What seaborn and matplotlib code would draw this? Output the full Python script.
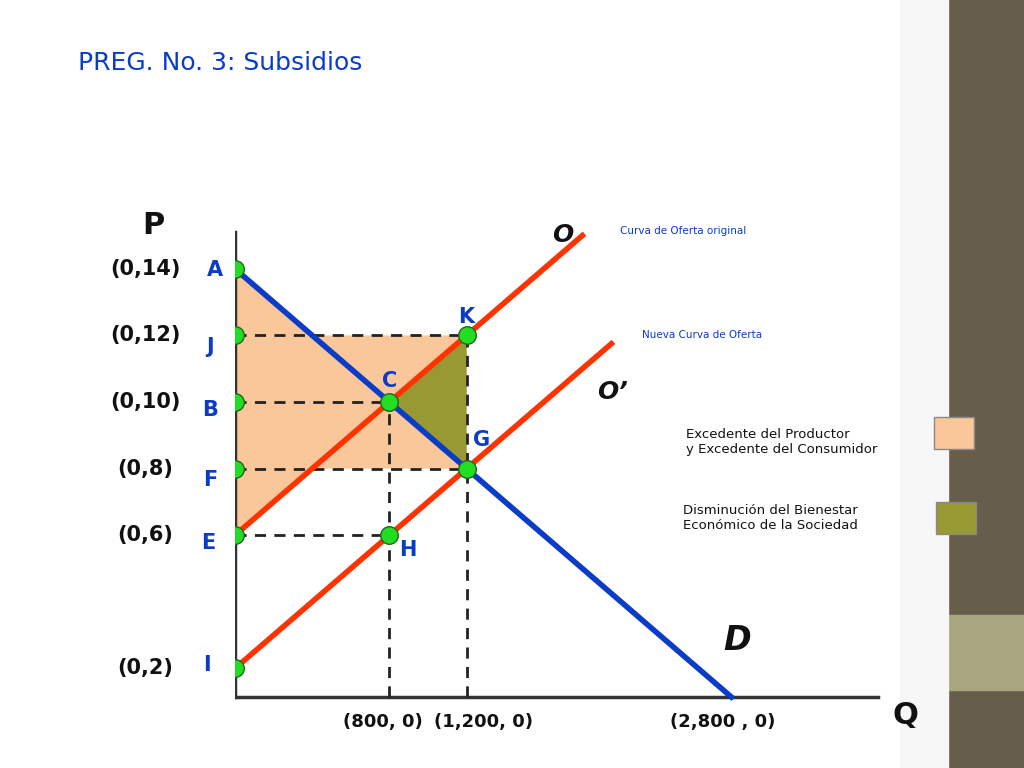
import matplotlib
matplotlib.use("Agg")
import matplotlib.pyplot as plt
import seaborn as sns
import pandas as pd
from matplotlib.patches import Rectangle, Polygon

# data
demand_q = [0, 2572]
demand_p = [14, 14 - 2572 / 200]
supply_q = [0, 1800]
supply_p = [6, 6 + 1800 / 200]
new_supply_q = [0, 1950]
new_supply_p = [2, 2 + 1950 / 200]
pt_names = ["A", "J", "B", "F", "E", "I", "K", "C", "G", "H"]
pt_q = [0, 0, 0, 0, 0, 0, 1200, 800, 1200, 800]
pt_p = [14, 12, 10, 8, 6, 2, 12, 10, 8, 6]
price_labels = ["(0,14)", "(0,12)", "(0,10)", "(0,8)", "(0,6)", "(0,2)"]
price_vals = [14, 12, 10, 8, 6, 2]
qty_labels = ["(800, 0)", "(1,200, 0)", "(2,800 , 0)"]
qty_px = [383, 484, 723]

BLUE = "#0a3cc8"
RED = "#ff3300"
PEACH = "#fac79a"
OLIVE = "#999933"
AXIS_P = 1.14
XS = 0.193  # px per Q unit
YS = 33.3   # px per P unit

W, H = 1024, 768
fig = plt.figure(figsize=(W / 100, H / 100), dpi=100)
fig.patch.set_facecolor("white")

def px(x, y):
    return x / W, 1 - y / H

# right decoration
fig.patches.append(Rectangle(px(948, 768), 76 / W, 1, transform=fig.transFigure, color="#665e4a", zorder=0))
fig.patches.append(Rectangle(px(948, 690), 76 / W, 75 / H, transform=fig.transFigure, color="#a9a67f", zorder=0))
fig.patches.append(Rectangle(px(900, 768), 48 / W, 1, transform=fig.transFigure, color="#f7f7f7", zorder=0))

ax = fig.add_axes([235 / W, 33 / H, 3600 * XS / W, 21 * YS / H])
ax.set_xlim(0, 3600)
ax.set_ylim(0, 21)
ax.axis("off")
ax.patch.set_alpha(0)

# surplus areas
ax.add_patch(Polygon([(0, 14), (0, 6), (400, 8), (1200, 8), (1200, 12), (400, 12)],
                     closed=True, color=PEACH, lw=0, zorder=1))
ax.add_patch(Polygon([(800, 10), (1200, 12), (1200, 8)], closed=True, color=OLIVE, lw=0, zorder=2))

# axes lines
ax.plot([0, 0], [AXIS_P, 15.1], color="#333333", lw=2.5, zorder=3)
ax.plot([0, 3330], [AXIS_P, AXIS_P], color="#333333", lw=2.5, zorder=3)

# dashed guides
dash = dict(color="#222222", lw=2, ls=(0, (4, 3)), zorder=3)
ax.plot([0, 1200], [12, 12], **dash)
ax.plot([0, 800], [10, 10], **dash)
ax.plot([0, 1200], [8, 8], **dash)
ax.plot([0, 800], [6, 6], **dash)
ax.plot([800, 800], [AXIS_P, 10], **dash)
ax.plot([1200, 1200], [AXIS_P, 12], **dash)

# curves
curves = pd.DataFrame({
    "Q": demand_q + supply_q + new_supply_q,
    "P": demand_p + supply_p + new_supply_p,
    "curve": ["D"] * 2 + ["O"] * 2 + ["O'"] * 2,
})
sns.lineplot(data=curves, x="Q", y="P", hue="curve", palette={"D": BLUE, "O": RED, "O'": RED},
             lw=4, legend=False, ax=ax, zorder=4)

pts = pd.DataFrame({"Q": pt_q, "P": pt_p})
sns.scatterplot(data=pts, x="Q", y="P", color="#22dd22", edgecolor="#226622", linewidth=1,
                s=160, ax=ax, zorder=6, legend=False)

# point letters
letter_px = {"A": (215, 270), "J": (210, 347), "B": (210, 410), "F": (210, 480), "E": (208, 543),
             "I": (207, 665), "K": (466, 317), "C": (390, 381), "G": (482, 440), "H": (408, 550)}
for n in pt_names:
    x, y = letter_px[n]
    fig.text(*px(x, y), n, color=BLUE, fontsize=15, fontweight="bold", ha="center", va="center")

for lab, v in zip(price_labels, price_vals):
    y = 735 - YS * v
    fig.text(*px(145, y), lab, color="#111111", fontsize=15, fontweight="bold", ha="center", va="center")
for lab, x in zip(qty_labels, qty_px):
    fig.text(*px(x, 722), lab, color="#111111", fontsize=13, fontweight="bold", ha="center", va="center")

fig.text(*px(78, 63), "PREG. No. 3: Subsidios", color=BLUE, fontsize=18, ha="left", va="center")
fig.text(*px(153, 225), "P", color="#111111", fontsize=22, fontweight="bold", ha="center", va="center")
fig.text(*px(905, 715), "Q", color="#111111", fontsize=22, fontweight="bold", ha="center", va="center")
fig.text(*px(563, 235), "O", color="#111111", fontsize=18, fontweight="bold", style="italic", ha="center", va="center")
fig.text(*px(612, 392), "O\u2019", color="#111111", fontsize=18, fontweight="bold", style="italic", ha="center", va="center")
fig.text(*px(737, 640), "D", color="#111111", fontsize=24, fontweight="bold", style="italic", ha="center", va="center")
fig.text(*px(620, 231), "Curva de Oferta original", color=BLUE, fontsize=7.5, ha="left", va="center")
fig.text(*px(642, 335), "Nueva Curva de Oferta", color=BLUE, fontsize=7.5, ha="left", va="center")
fig.text(*px(686, 442), "Excedente del Productor\ny Excedente del Consumidor", color="#111111",
         fontsize=9.5, ha="left", va="center", linespacing=1.2)
fig.text(*px(683, 518), "Disminución del Bienestar\nEconómico de la Sociedad", color="#111111",
         fontsize=9.5, ha="left", va="center", linespacing=1.2)
fig.patches.append(Rectangle(px(934, 449), 40 / W, 32 / H, transform=fig.transFigure,
                             facecolor=PEACH, edgecolor="#888888", lw=1, zorder=2))
fig.patches.append(Rectangle(px(936, 534), 40 / W, 32 / H, transform=fig.transFigure,
                             facecolor=OLIVE, edgecolor="#888888", lw=1, zorder=2))

fig.savefig("out.png", dpi=100)
